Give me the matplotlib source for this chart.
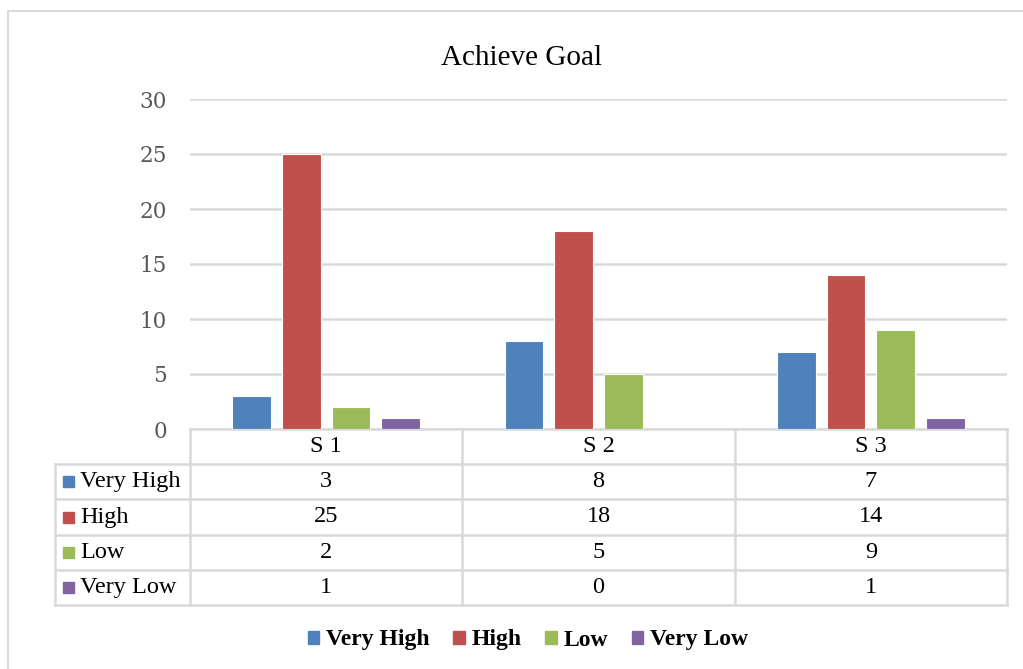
import matplotlib.pyplot as plt
from matplotlib.patches import Rectangle, Patch

# series data
categories = ['S 1', 'S 2', 'S 3']
series_names = ['Very High', 'High', 'Low', 'Very Low']
very_high = [3, 8, 7]
high = [25, 18, 14]
low = [2, 5, 9]
very_low = [1, 0, 1]
colors = ['#4F81BD', '#C0504D', '#9BBB59', '#8064A2']
yticks = [0, 5, 10, 15, 20, 25, 30]

W, H = 1023, 669
fig = plt.figure(figsize=(W / 100, H / 100), dpi=100)
serif = ['Liberation Serif', 'DejaVu Serif']
grid_col = '#d9d9d9'

# outer chart border
fig.patches.append(Rectangle((8 / W, -0.1), 1.2, 1.1 - 11 / H, transform=fig.transFigure,
                             fill=False, edgecolor=grid_col, lw=1.5))

# plot area in pixel positions
x0, x1, ytop, ybot = 190, 1007, 99, 429
ax = fig.add_axes([x0 / W, 1 - ybot / H, (x1 - x0) / W, (ybot - ytop) / H])
ax.set_xlim(-0.5, len(categories) - 0.5)
ax.set_ylim(0, 30)
for s in ax.spines.values():
    s.set_visible(False)
ax.set_xticks([])
ax.set_yticks(yticks)
ax.tick_params(axis='y', length=0, pad=16.5, labelsize=15.5, labelcolor='#595959')
for lbl in ax.get_yticklabels():
    lbl.set_family(['DejaVu Serif'])
ax.yaxis.grid(True, color=grid_col, lw=1.8)
ax.set_axisbelow(True)

values = [very_high, high, low, very_low]
bw, step = 0.142, 0.182
for i, vals in enumerate(values):
    xs = [c + (i - 1.5) * step for c in range(len(categories))]
    ax.bar(xs, vals, width=bw, color=colors[i], edgecolor='white', lw=0.8, zorder=3)

fig.text(522 / W, 1 - 58 / H, 'Achieve Goal', ha='center', va='center',
         fontsize=21, family=serif)

# data table below the axis, drawn in data x / axes y coordinates
tr = ax.get_xaxis_transform()
unit_px = (x1 - x0) / len(categories)
left_edge = -0.5 - (x0 - 55) / unit_px
row_h = 35.2 / (ybot - ytop)
nrows = len(series_names)
line_kw = dict(color=grid_col, lw=1.8, transform=tr, clip_on=False)
bottom = -row_h * (nrows + 1)
ax.plot([-0.5, len(categories) - 0.5], [0, 0], **line_kw)
for r in range(1, nrows + 2):
    ax.plot([left_edge, len(categories) - 0.5], [-r * row_h] * 2, **line_kw)
ax.plot([left_edge, left_edge], [-row_h, bottom], **line_kw)
for c in range(len(categories) + 1):
    ax.plot([c - 0.5, c - 0.5], [0, bottom], **line_kw)

fs = 17.5
for c, cat in enumerate(categories):
    ax.text(c, -0.5 * row_h, cat, transform=tr, ha='center', va='center',
            fontsize=fs, family=serif)
sq = 11 / unit_px
for r, name in enumerate(series_names):
    yc = -(r + 1.5) * row_h
    ax.add_patch(Rectangle((left_edge + 8 / unit_px, yc - 5.5 / (ybot - ytop)), sq,
                           11 / (ybot - ytop), transform=tr, color=colors[r], clip_on=False))
    ax.text(left_edge + 25 / unit_px, yc, name, transform=tr, ha='left', va='center',
            fontsize=fs, family=serif)
    for c in range(len(categories)):
        ax.text(c, yc, str(values[r][c]), transform=tr, ha='center', va='center',
                fontsize=fs, family=serif)

handles = [Patch(color=col, label=n) for col, n in zip(colors, series_names)]
fig.legend(handles=handles, loc='center', bbox_to_anchor=(528 / W, 1 - 640 / H), ncol=4,
           frameon=False, handlelength=0.48, handleheight=0.48, handletextpad=0.3,
           columnspacing=1.0, prop={'family': serif, 'weight': 'bold', 'size': 17})

fig.savefig('out.png', dpi=100)
